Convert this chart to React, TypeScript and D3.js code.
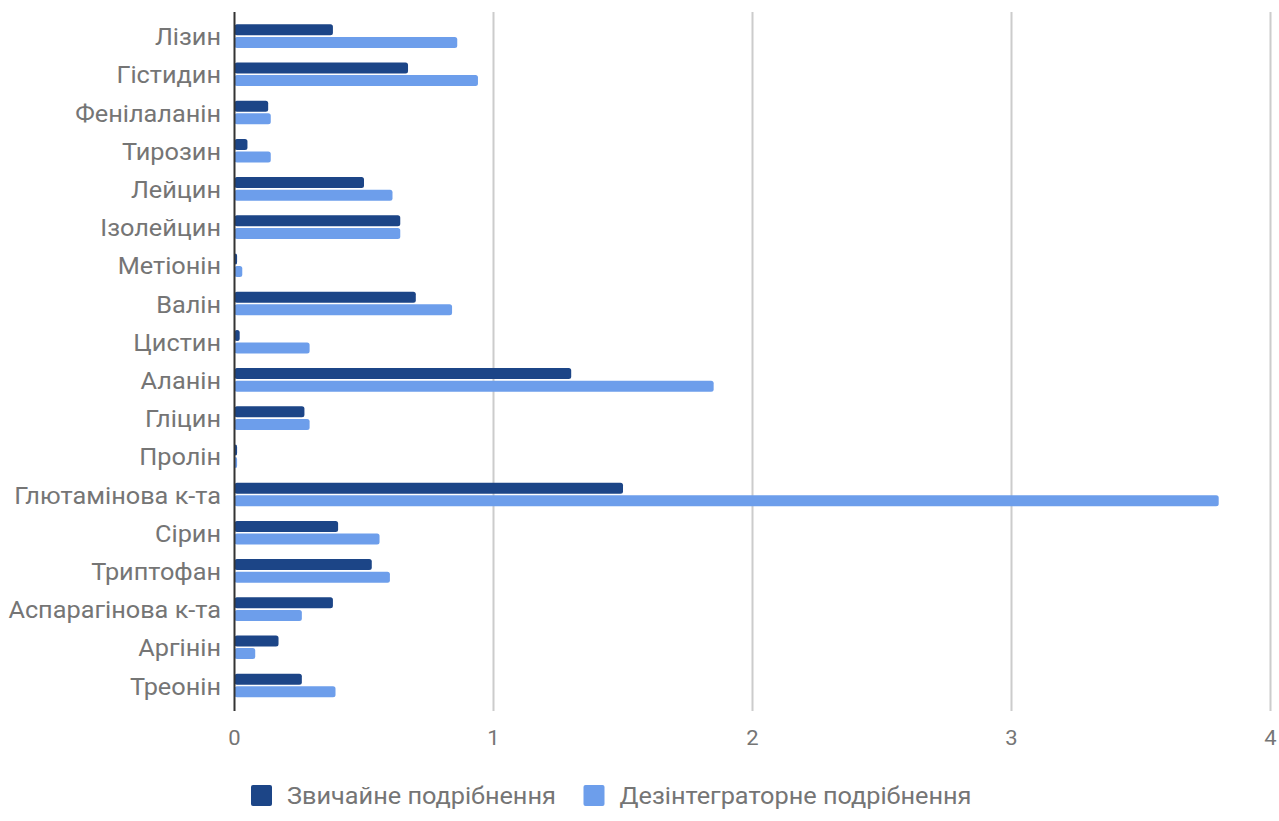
import React from "react";
import * as d3 from "d3";

const categories = [
  "Лізин", "Гістидин", "Фенілаланін", "Тирозин", "Лейцин", "Ізолейцин",
  "Метіонін", "Валін", "Цистин", "Аланін", "Гліцин", "Пролін",
  "Глютамінова к-та", "Сірин", "Триптофан", "Аспарагінова к-та", "Аргінін", "Треонін",
];
const regular = [0.38, 0.67, 0.13, 0.05, 0.5, 0.64, 0.01, 0.7, 0.02, 1.3, 0.27, 0.01, 1.5, 0.4, 0.53, 0.38, 0.17, 0.26];
const disintegrator = [0.86, 0.94, 0.14, 0.14, 0.61, 0.64, 0.03, 0.84, 0.29, 1.85, 0.29, 0.01, 3.8, 0.56, 0.6, 0.26, 0.08, 0.39];
const seriesNames = ["Звичайне подрібнення", "Дезінтеграторне подрібнення"];
const seriesColors = ["#1c4587", "#6d9eeb"];
const xTicks = [0, 1, 2, 3, 4];

const W = 1279;
const H = 821;
const left = 234.5;
const right = 1270.5;
const plotTop = 12;
const plotBottom = 711;
const font = "Roboto, 'Noto Sans', sans-serif";
const textColor = "#757575";
const stretch = 1.1; // text is drawn slightly wide

export default function App() {
  const x = d3.scaleLinear().domain([0, 4]).range([left, right]);
  const y = d3.scaleBand<string>().domain(categories).range([17, 704.6]).padding(0);
  const barH = 11;
  const gap = 1.6;
  const series = [regular, disintegrator];

  return (
    <svg width={W} height={H} style={{ position: "absolute", left: 0, top: 0, background: "#fff" }}>
      {xTicks.slice(1).map((t) => (
        <line key={t} x1={x(t)} x2={x(t)} y1={plotTop} y2={plotBottom} stroke="#cccccc" strokeWidth={2} />
      ))}
      {categories.map((c, i) => {
        const cy = (y(c) as number) + y.bandwidth() / 2;
        return (
          <g key={c}>
            {series.map((vals, s) => {
              const top = s === 0 ? cy - gap / 2 - barH : cy + gap / 2;
              const w = Math.max(x(vals[i]) - x(0), 0);
              return (
                <rect key={s} x={x(0)} y={top} width={w} height={barH} rx={2.5} ry={2.5} fill={seriesColors[s]} />
              );
            })}
            <text
              transform={`translate(221,${cy + 1}) scale(${stretch},1)`}
              dy="0.35em"
              textAnchor="end"
              fontFamily={font}
              fontSize={23}
              fill={textColor}
            >
              {c}
            </text>
          </g>
        );
      })}
      <line x1={x(0)} x2={x(0)} y1={plotTop} y2={plotBottom} stroke="#333333" strokeWidth={2} />
      {xTicks.map((t) => (
        <text
          key={t}
          transform={`translate(${x(t)},745) scale(${stretch},1)`}
          textAnchor="middle"
          fontFamily={font}
          fontSize={20}
          fill={textColor}
        >
          {t}
        </text>
      ))}
      {seriesNames.map((n, s) => {
        const lx = s === 0 ? 251 : 583.5;
        return (
          <g key={n}>
            <rect x={lx} y={785} width={21} height={21} rx={2} fill={seriesColors[s]} />
            <text
              transform={`translate(${lx + 36},796) scale(${stretch},1)`}
              dy="0.35em"
              fontFamily={font}
              fontSize={23}
              fill={textColor}
            >
              {n}
            </text>
          </g>
        );
      })}
    </svg>
  );
}
